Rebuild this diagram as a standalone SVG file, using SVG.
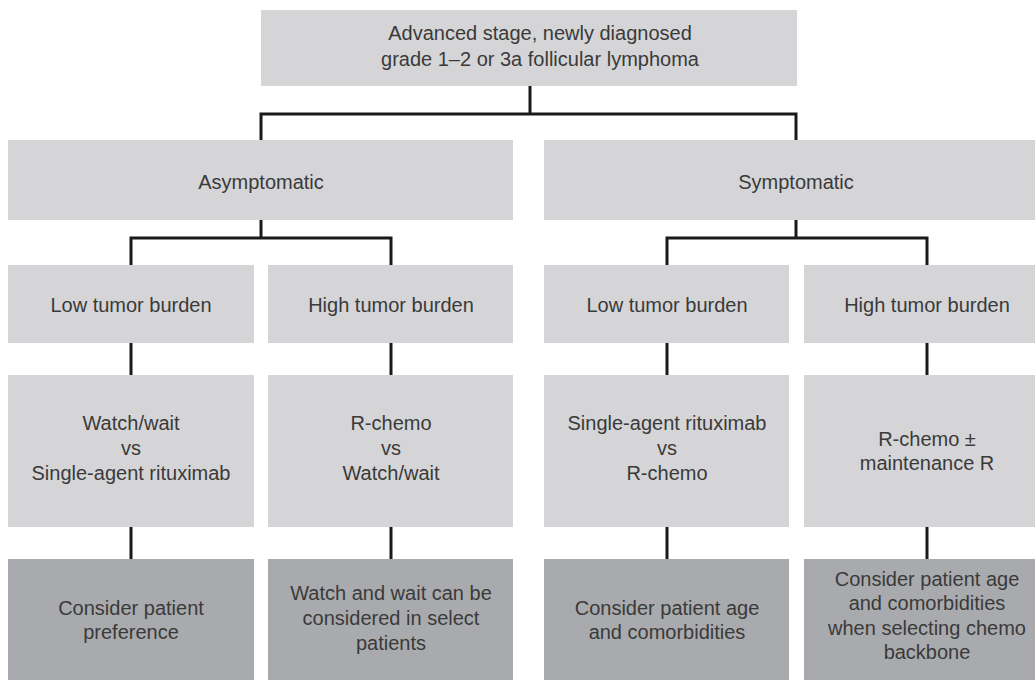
<svg xmlns="http://www.w3.org/2000/svg" width="1035" height="680" viewBox="0 0 1035 680">
<style>
.l{fill:#d5d5d7}
.d{fill:#a9aaad}
text{font-family:"Liberation Sans",Arial,sans-serif;font-size:20px;fill:#3a3a3a;text-anchor:middle}
.c{fill:none;stroke:#1a1a1a;stroke-width:3}
</style>
<rect width="1035" height="680" fill="#ffffff"/>
<g id="connectors" class="c">
<path d="M530 86V114M261 140V114H796V140"/>
<path d="M261 220V238M131 265V238H391V265"/>
<path d="M796 220V238M667 265V238H927V265"/>
<path d="M131 343V375M391 343V375M667 343V375M927 343V375"/>
<path d="M131 527V559M391 527V559M667 527V559M927 527V559"/>
</g>
<g id="root"><rect class="l" x="261" y="10" width="536" height="76"/><text x="540" y="40">Advanced stage, newly diagnosed</text><text x="540" y="66">grade 1–2 or 3a follicular lymphoma</text></g>
<g id="asym"><rect class="l" x="8" y="140" width="505" height="80"/><text x="261" y="189">Asymptomatic</text></g>
<g id="sym"><rect class="l" x="544" y="140" width="505" height="80"/><text x="796" y="189">Symptomatic</text></g>
<g id="asym-low"><rect class="l" x="8" y="265" width="246" height="78"/><text x="131" y="312">Low tumor burden</text></g>
<g id="asym-high"><rect class="l" x="268" y="265" width="245" height="78"/><text x="391" y="312">High tumor burden</text></g>
<g id="sym-low"><rect class="l" x="544" y="265" width="245" height="78"/><text x="667" y="312">Low tumor burden</text></g>
<g id="sym-high"><rect class="l" x="804" y="265" width="246" height="78"/><text x="927" y="312">High tumor burden</text></g>
<g id="asym-low-tx"><rect class="l" x="8" y="375" width="246" height="152"/><text x="131" y="430">Watch/wait</text><text x="131" y="455">vs</text><text x="131" y="480">Single-agent rituximab</text></g>
<g id="asym-high-tx"><rect class="l" x="268" y="375" width="245" height="152"/><text x="391" y="430">R-chemo</text><text x="391" y="455">vs</text><text x="391" y="480">Watch/wait</text></g>
<g id="sym-low-tx"><rect class="l" x="544" y="375" width="245" height="152"/><text x="667" y="430">Single-agent rituximab</text><text x="667" y="455">vs</text><text x="667" y="480">R-chemo</text></g>
<g id="sym-high-tx"><rect class="l" x="804" y="375" width="246" height="152"/><text x="927" y="446">R-chemo ±</text><text x="927" y="470">maintenance R</text></g>
<g id="asym-low-note"><rect class="d" x="8" y="559" width="246" height="121"/><text x="131" y="615">Consider patient</text><text x="131" y="639">preference</text></g>
<g id="asym-high-note"><rect class="d" x="268" y="559" width="245" height="121"/><text x="391" y="600">Watch and wait can be</text><text x="391" y="625">considered in select</text><text x="391" y="650">patients</text></g>
<g id="sym-low-note"><rect class="d" x="544" y="559" width="245" height="121"/><text x="667" y="615">Consider patient age</text><text x="667" y="639">and comorbidities</text></g>
<g id="sym-high-note"><rect class="d" x="804" y="559" width="246" height="121"/><text x="927" y="586">Consider patient age</text><text x="927" y="610">and comorbidities</text><text x="927" y="635">when selecting chemo</text><text x="927" y="659">backbone</text></g>
</svg>
